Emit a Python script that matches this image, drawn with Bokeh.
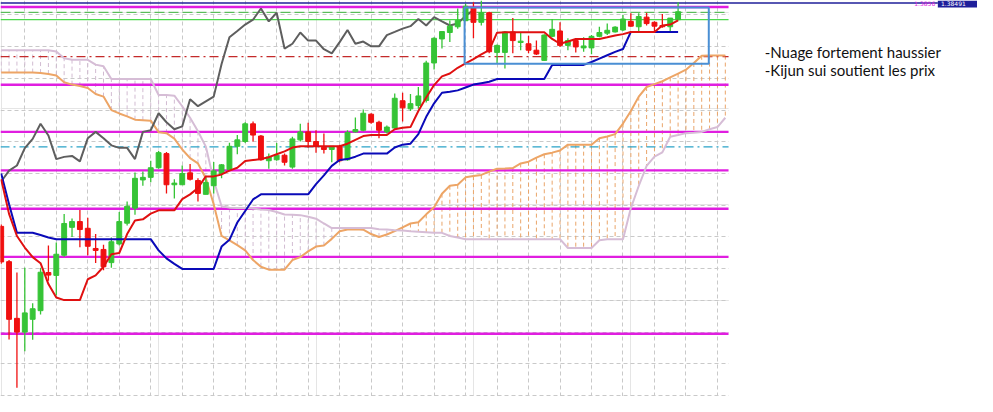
from bokeh.plotting import figure
from bokeh.models import Range1d, FixedTicker, BoxAnnotation, Grid
from bokeh.embed import file_html
from bokeh.resources import INLINE
from bokeh.core.properties import value

# ---------------- data (price units) ----------------
opens = [177, 140.3, 81.3, 67, 80.3, 89.3, 129, 126, 147, 176,
         182, 175, 154, 153, 139.3, 158.7, 180.3, 196, 225.3, 228,
         238, 252.7, 220.3, 220.3, 232.7, 224.7, 210.3, 219.3, 232, 236,
         260.3, 265.3, 283.7, 271, 245.3, 246.3, 251, 238.7, 267, 275.3,
         265.3, 259.3, 257, 260.3, 246.3, 275.3, 277, 293.7, 285.3, 275.3,
         279.3, 307.7, 299.3, 302.7, 308, 347, 372, 378.7, 384.7, 391,
         404.7, 389.3, 399.3, 358, 358, 379.3, 368.3, 367, 360.3, 349.7,
         374.7, 380.3, 365.3, 370.3, 362.7, 362.7, 374.7, 378, 379.3, 381.3,
         390.3, 384.7, 394.7, 389.3, 386, 384.7, 392]
highs = [179, 142, 129, 134, 97, 134, 157, 160.3, 190, 185.3,
         194, 186, 169, 158, 165.3, 192, 203, 233, 234, 245.3,
         255.3, 254.3, 226, 240.3, 242, 227, 229, 244, 242, 264,
         272, 285.3, 286, 272, 252.7, 263.7, 252.7, 270.3, 283.7, 284.7,
         277, 273.7, 260.3, 262, 277, 290.3, 298.7, 294.7, 287, 282,
         315.3, 316, 314.7, 322, 349.3, 373.7, 380.3, 391.3, 403.7, 408.7,
         410.3, 412, 400.3, 366.3, 380.3, 393.7, 378.7, 375.3, 370.3, 377,
         392.7, 389.3, 372.7, 372.7, 373.7, 376, 384.7, 388, 385.3, 397,
         398.7, 398.7, 399.3, 390.3, 398, 393.7, 410.3]
lows = [138, 59.3, 9, 47, 59, 85.3, 120.3, 105.3, 145.3, 166,
        155.3, 147, 139, 131.3, 134, 157, 178, 189, 219.3, 223,
        237, 211.3, 206, 220.3, 224.7, 203, 210.3, 211.3, 227, 235.3,
        252, 263.7, 265.3, 245.3, 237, 245.3, 240.3, 237, 265.3, 258.7,
        253.7, 252.7, 243.7, 243.7, 245.3, 274.7, 276, 283.7, 268.7, 273.7,
        278.7, 286, 297, 299.3, 306, 340.3, 362, 368.7, 382.7, 390.3,
        372.7, 386, 357, 347, 341.3, 357, 360.3, 357, 355.3, 349.3,
        373.7, 363.7, 360.3, 358, 358.7, 356, 373.7, 376, 378.7, 380.3,
        384.7, 380.3, 386, 380.3, 383.7, 378.7, 391.3]
closes = [140, 80.3, 67, 87, 91.3, 129.3, 126.3, 148, 180, 182,
          173.7, 156.3, 152, 135, 161, 182, 198, 227, 228, 238,
          253.7, 220.3, 222, 232, 226, 211.3, 222.7, 234.7, 241, 260.3,
          267, 283.7, 272, 246.3, 249.3, 251, 243.7, 268, 275.3, 265.3,
          260.3, 257, 260.3, 245.3, 274.7, 277.7, 294.7, 285.3, 277, 280.3,
          310.3, 300.3, 304.7, 312.7, 347, 372.7, 379.7, 385.3, 391.3, 406,
          389.3, 399.3, 358.7, 365.3, 379.3, 370.3, 369.7, 360.3, 356.3, 376,
          382, 365.3, 370.3, 363.7, 364.7, 374.7, 378.7, 381, 384.3, 392.7,
          385.3, 395.3, 388, 385.3, 384.7, 393.7, 400.3]

tenkan = [226, 190, 167, 155, 145, 138.7, 117, 103, 100.3, 100.3,
          100.3, 122, 126, 135, 148, 149.3, 169, 183, 184.3, 190.3,
          193.7, 193.7, 193.7, 205.3, 210.3, 217, 229, 229, 231, 235,
          238, 245, 246, 247, 249, 252, 255, 259, 260.3, 260.3,
          260.3, 260.3, 260.3, 260.3, 263, 267, 271, 272, 272, 272,
          278, 279.5, 280.3, 297, 311, 324, 333, 336, 342, 346.5,
          351, 356, 360.3, 378.5, 379, 379, 379, 379, 379, 379,
          372, 367, 369.3, 372, 372, 372, 372, 373.7, 375.5, 377,
          379.3, 379.3, 379.3, 379.3, 386, 387, 391.3]
kijun = [232, 200, 170.3, 170.3, 170.3, 168, 165.5, 163.7, 163.7, 163.7,
         163.7, 163.7, 163.7, 163.7, 163.7, 163.7, 163.7, 163.7, 163.7, 163.7,
         152, 143.7, 138, 132.7, 132.7, 132.7, 132.7, 132.7, 156, 163,
         181, 193, 205, 210.3, 210.3, 210.3, 210.3, 210.3, 210.3, 210.3,
         221, 230, 240, 246, 247, 249.5, 252.7, 252.7, 252.7, 252.7,
         259, 262, 263, 273, 291, 305, 316, 317, 318.5, 321.5,
         324.5, 326, 327.5, 330.3, 330.3, 330.3, 330.3, 330.3, 330.3, 330.3,
         345, 345, 345, 345, 345, 348, 351.5, 355, 358.5, 361.5,
         379.3, 379.3, 379.3, 379.3, 379.3, 379.3, 379.3]
chikou = [223.7, 235, 240.3, 258.5, 268, 283.7, 271.5, 247, 249.3, 250.3,
          244.7, 268.7, 275.3, 268.7, 261.3, 258.7, 258.7, 247, 275.3, 277,
          294.7, 285.3, 278, 281, 309.3, 302, 307, 312, 346, 373.7,
          380.3, 387, 392, 403.7, 390.3, 399.3, 362, 367, 378.7, 370.3,
          370.3, 361.3, 357, 368.7, 381.3, 367, 369.3, 364.3, 364.3, 376,
          379.3, 382.7, 385.3, 392.7, 386, 394.7, 390.3, 386, 388, 396,
          402]
senkou_a = [337, 337, 337, 337, 337, 336.5, 335.5, 334, 327, 324.5,
            323, 321, 314.7, 312, 298, 294.5, 291.5, 288, 287.5, 287,
            275, 274, 268.3, 257, 248, 242.5, 227, 200, 167, 162.5,
            157.5, 152, 142, 135, 132, 132, 132, 142, 145, 151,
            156, 157, 164, 172, 173.7, 174, 173.5, 169, 166, 168.5,
            172, 176, 180, 181.3, 189.5, 197, 211, 219.3, 220.3, 228,
            229.3, 230.5, 234, 237, 237.3, 237.7, 242.5, 244.3, 248.5, 252,
            253.7, 256, 262, 262, 262, 262, 268.7, 270.5, 273, 284,
            297, 312, 322, 325, 328, 332, 336, 340, 347, 354.5,
            354.7, 354.7, 354.7]
senkou_b = [360.3, 360.3, 360.3, 360.3, 360.3, 360.3, 360.3, 359, 352, 350.3,
            350.3, 350.3, 345.3, 343.7, 330.3, 330.3, 330.3, 330.3, 330.3, 330.3,
            313.7, 313.7, 313, 302, 290, 276, 260, 225, 198, 196.5,
            196, 196, 195.5, 194.5, 194, 192, 189.3, 189, 188.7, 187,
            185, 180, 175.3, 175.3, 175.3, 175.3, 175.3, 175.3, 174, 173.7,
            173, 172.7, 172, 171.5, 171, 170.3, 170.3, 167, 165.5, 163.7,
            163.7, 163.7, 163.7, 163.7, 163.7, 163.7, 163.7, 163.7, 163.7, 163.7,
            163.7, 163.7, 154.5, 154.5, 154.5, 154.5, 162.5, 163.7, 163.7, 163.7,
            196, 219, 240, 249.5, 254, 270.3, 272, 274, 274.5, 275.3,
            278, 280.3, 290]

# horizontal price levels drawn on the chart
level_prices = [405.3, 324.3, 275.3, 235.3, 195.3, 145.3, 65.3]      # magenta
green_dash_level = 399.7
green_level = 392.0
red_dashdot_level = 353.7
cyan_dashdot_level = 259.7
bid_level = 409.3

# price-scale tags at the top edge
tag_texts = ["1.3856", "1.38491"]
tag_bars = [116.0, 119.4]

# rectangle drawn around the consolidation
box_bars = (58.875, 89.9)
box_prices = (346.3, 404.6)

notes = ["-Nuage fortement haussier", "-Kijun sui soutient les prix"]
note_bar = 97.0
note_prices = [358.7, 340.2]

grid_bars = [3, 7, 11, 15, 19, 23, 27, 31, 35, 39, 43, 47, 51, 55, 59, 63, 67, 71, 75, 79, 83, 87, 91]
grid_prices = [397, 364, 331, 298, 265, 232, 199, 166, 133, 100, 67, 34, 1]

chart_start, chart_end, bid_end = -0.0875, 92.41, 119.0

# ---------------- figure ----------------
p = figure(width=977, height=396, output_backend="svg", toolbar_location=None,
           x_range=Range1d(-0.0875, 124.04), y_range=Range1d(0, 412),
           x_axis_location=None, y_axis_location=None, min_border=0,
           background_fill_color="white", border_fill_color="white",
           outline_line_color=None)

p.add_layout(Grid(dimension=0, ticker=FixedTicker(ticks=grid_bars),
                  grid_line_color="#c9c9c9", grid_line_dash="4 3", grid_line_width=1), "center")
p.add_layout(Grid(dimension=1, ticker=FixedTicker(ticks=grid_prices),
                  grid_line_color="#c9c9c9", grid_line_dash="4 3", grid_line_width=1), "center")
p.add_layout(BoxAnnotation(left=chart_end, fill_color="white", fill_alpha=1.0,
                           line_alpha=0, level="underlay"))

# cloud hatching
n_span = len(senkou_a)
span_x = list(range(n_span))
hatch_col = ["#eaa56a" if a >= b else "#d2bcd2" for a, b in zip(senkou_a, senkou_b)]
p.segment(x0=span_x, y0=senkou_a, x1=span_x, y1=senkou_b, line_color=hatch_col,
          line_width=1, line_dash="4 3")

# horizontal levels
p.segment(x0=[chart_start], y0=[bid_level], x1=[bid_end], y1=[bid_level],
          line_color="#1f1f9a", line_width=1.5)
n_lv = len(level_prices)
p.segment(x0=[chart_start] * n_lv, y0=level_prices, x1=[chart_end] * n_lv, y1=level_prices,
          line_color="#e01ee0", line_width=2.4)
p.segment(x0=[chart_start], y0=[green_dash_level], x1=[chart_end], y1=[green_dash_level],
          line_color="#3cb43c", line_width=1, line_dash="10 4")
p.segment(x0=[chart_start], y0=[green_level], x1=[chart_end], y1=[green_level],
          line_color="#4cd84c", line_width=1.2)
p.segment(x0=[chart_start], y0=[red_dashdot_level], x1=[chart_end], y1=[red_dashdot_level],
          line_color="#c42a2a", line_width=1.2, line_dash="9 4 2 4")
p.segment(x0=[chart_start], y0=[cyan_dashdot_level], x1=[chart_end], y1=[cyan_dashdot_level],
          line_color="#2aa3c8", line_width=1.2, line_dash="9 4 2 4")

# price-scale tags at the top right
p.quad(left=[bid_end], right=[124.04], bottom=[404.8], top=[412], fill_color="#1f1f9a",
       line_alpha=0)
p.text(x=tag_bars, y=[411.4, 411.4], text=tag_texts, text_font=value("DejaVu Sans"),
       text_font_size="6px", text_color=["#e01ee0", "white"], text_baseline="top")

# senkou spans
p.line(span_x, senkou_a, line_color="#eda566", line_width=2)
p.line(span_x, senkou_b, line_color="#d6bdd6", line_width=2)

# chikou
p.line(list(range(len(chikou))), chikou, line_color="#5e5e5e", line_width=2)

# candles
n = len(opens)
bx = list(range(n))
col = ["#36c436" if c >= o else "#f01010" for o, c in zip(opens, closes)]
tops = [max(o, c) for o, c in zip(opens, closes)]
bots = [min(o, c) for o, c in zip(opens, closes)]
p.segment(x0=bx, y0=highs, x1=bx, y1=lows, line_color=col, line_width=1.3)
p.vbar(x=bx, top=tops, bottom=bots, width=0.62, fill_color=col, line_color=col, line_width=1)

# tenkan / kijun
p.line(bx, kijun, line_color="#0a0ab8", line_width=2)
p.line(bx, tenkan, line_color="#e01010", line_width=2)

# rectangle
p.quad(left=[box_bars[0]], right=[box_bars[1]], bottom=[box_prices[0]], top=[box_prices[1]],
       fill_alpha=0, line_color="#4a8fd4", line_width=2)

# notes
p.text(x=[note_bar, note_bar], y=note_prices, text=notes, text_font=value("Lato"),
       text_font_size="15px", text_color="#111111", text_baseline="alphabetic")

open("out.html", "w").write(file_html(p, INLINE))
